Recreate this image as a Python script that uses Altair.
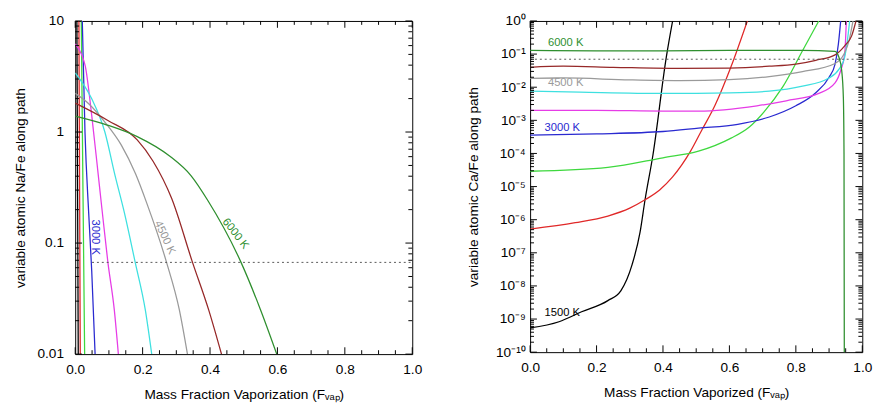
import altair as alt
import pandas as pd

# ---------------- data ----------------
TEMPS = ["1500 K", "2000 K", "2500 K", "3000 K", "3500 K", "4000 K", "4500 K", "5000 K", "6000 K"]
COLORS = ["#000000", "#e02828", "#3ed83e", "#2a2ad0", "#e63ce6", "#3ee0e0", "#9a9a9a", "#962828", "#2f8f2f"]

# Left panel: atomic Na/Fe vs mass fraction vaporized
na_f = {
    "1500 K": [0.005, 0.007, 0.009],
    "2000 K": [0.011, 0.013, 0.015],
    "2500 K": [0.018, 0.023, 0.028],
    "3000 K": [0.021, 0.029, 0.040, 0.049, 0.059],
    "3500 K": [0.0, 0.02, 0.03, 0.049, 0.068, 0.079, 0.097, 0.116, 0.128],
    "4000 K": [0.0, 0.049, 0.088, 0.117, 0.146, 0.178, 0.208, 0.227],
    "4500 K": [0.0, 0.04, 0.088, 0.136, 0.179, 0.212, 0.271, 0.309, 0.333],
    "5000 K": [0.0, 0.097, 0.184, 0.231, 0.286, 0.348, 0.396, 0.434],
    "6000 K": [0.0, 0.097, 0.184, 0.28, 0.344, 0.393, 0.492, 0.55, 0.598],
}
na_v = {
    "1500 K": [10, 0.3, 0.01],
    "2000 K": [10, 0.3, 0.01],
    "2500 K": [10, 0.3, 0.01],
    "3000 K": [10, 1.0, 0.186, 0.056, 0.01],
    "3500 K": [6.2, 4.9, 3.9, 1.41, 0.42, 0.207, 0.067, 0.025, 0.01],
    "4000 K": [3.4, 1.99, 1.0, 0.42, 0.187, 0.067, 0.025, 0.01],
    "4500 K": [2.23, 1.8, 1.23, 0.77, 0.42, 0.23, 0.067, 0.025, 0.01],
    "5000 K": [1.82, 1.27, 0.85, 0.546, 0.253, 0.067, 0.025, 0.01],
    "6000 K": [1.39, 1.15, 0.91, 0.608, 0.403, 0.243, 0.067, 0.025, 0.01],
}

# Right panel: atomic Ca/Fe vs mass fraction vaporized
ca_f = {
    "1500 K": [0.0, 0.087, 0.155, 0.234, 0.273, 0.307, 0.331, 0.346, 0.37, 0.41, 0.429],
    "2000 K": [0.0, 0.136, 0.234, 0.30, 0.346, 0.39, 0.429, 0.483, 0.517, 0.556, 0.605, 0.654],
    "2500 K": [0.0, 0.234, 0.4, 0.507, 0.605, 0.66, 0.703, 0.76, 0.82, 0.869],
    "3000 K": [0.0, 0.2, 0.4, 0.507, 0.625, 0.72, 0.8, 0.86, 0.9, 0.918, 0.928, 0.935],
    "3500 K": [0.0, 0.2, 0.4, 0.507, 0.683, 0.771, 0.869, 0.918, 0.935, 0.947, 0.952],
    "4000 K": [0.0, 0.15, 0.4, 0.6, 0.72, 0.82, 0.898, 0.93, 0.947, 0.955, 0.962],
    "4500 K": [0.0, 0.1, 0.3, 0.45, 0.6, 0.72, 0.82, 0.918, 0.945, 0.96, 0.972],
    "5000 K": [0.0, 0.1, 0.25, 0.45, 0.6, 0.72, 0.8, 0.86, 0.918, 0.947, 0.968, 0.981],
    "6000 K": [0.0, 0.2, 0.4, 0.6, 0.82, 0.918, 0.93, 0.938, 0.943, 0.945, 0.946],
}
ca_v = {
    "1500 K": [5.4e-10, 8.3e-10, 1.66e-9, 3.6e-9, 7.1e-9, 4.4e-8, 4.2e-7, 4.0e-6, 9.3e-5, 8.1e-2, 1.0],
    "2000 K": [5.2e-7, 8.1e-7, 1.29e-6, 2.24e-6, 4.0e-6, 7.9e-6, 1.95e-5, 1.17e-4, 5.1e-4, 2.75e-3, 4.2e-2, 1.0],
    "2500 K": [2.9e-5, 3.8e-5, 7.4e-5, 1.17e-4, 2.9e-4, 6.3e-4, 1.74e-3, 1.0e-2, 0.126, 1.0],
    "3000 K": [3.6e-4, 3.9e-4, 4.6e-4, 5.8e-4, 7.6e-4, 1.26e-3, 2.75e-3, 6.8e-3, 2.0e-2, 5.0e-2, 0.2, 1.0],
    "3500 K": [2.0e-3, 2.0e-3, 1.9e-3, 1.9e-3, 2.75e-3, 3.9e-3, 6.5e-3, 1.35e-2, 3.2e-2, 0.1, 1.0],
    "4000 K": [7.6e-3, 7.1e-3, 6.5e-3, 6.8e-3, 7.6e-3, 1.07e-2, 1.86e-2, 3.5e-2, 8.1e-2, 0.25, 1.0],
    "4500 K": [1.86e-2, 1.9e-2, 1.66e-2, 1.58e-2, 1.7e-2, 2.1e-2, 2.95e-2, 5.2e-2, 0.1, 0.25, 1.0],
    "5000 K": [4.0e-2, 4.3e-2, 4.0e-2, 3.7e-2, 3.8e-2, 4.3e-2, 5.0e-2, 6.5e-2, 9.5e-2, 0.178, 0.355, 1.0],
    "6000 K": [0.129, 0.126, 0.126, 0.129, 0.129, 0.12, 0.079, 0.032, 5.0e-3, 1e-4, 1e-11],
}

# reference (dotted) levels
na_ref = {"x0": [0.05], "x1": [1.0], "y": [0.067]}
ca_ref = {"x0": [0.0], "x1": [1.0], "y": [0.07]}

# curve labels
na_lab_text = ["3000 K", "4500 K", "6000 K"]
na_lab_f = [0.058, 0.265, 0.475]
na_lab_v = [0.113, 0.112, 0.121]
na_lab_angle = [90, 65, 52]
na_lab_color = ["#2a2ad0", "#9a9a9a", "#2f8f2f"]

ca_lab_text = ["6000 K", "4500 K", "3000 K", "1500 K"]
ca_lab_f = [0.107, 0.107, 0.097, 0.097]
ca_lab_v = [0.211, 0.0135, 5.75e-4, 1.48e-9]
ca_lab_color = ["#2f8f2f", "#9a9a9a", "#2a2ad0", "#000000"]

# axis tick values
x_major = [0.0, 0.2, 0.4, 0.6, 0.8, 1.0]
x_minor = [0.05, 0.1, 0.15, 0.25, 0.3, 0.35, 0.45, 0.5, 0.55, 0.65, 0.7, 0.75, 0.85, 0.9, 0.95]
na_y_major = [0.01, 0.1, 1, 10]
ca_y_major = [1e-10, 1e-9, 1e-8, 1e-7, 1e-6, 1e-5, 1e-4, 1e-3, 1e-2, 1e-1, 1]
mantissas = [2, 3, 4, 5, 6, 7, 8, 9]
na_decades = [0.01, 0.1, 1]
ca_decades = [1e-10, 1e-9, 1e-8, 1e-7, 1e-6, 1e-5, 1e-4, 1e-3, 1e-2, 1e-1]
na_y_minor = [m * d for d in na_decades for m in mantissas]
ca_y_minor = [m * d for d in ca_decades for m in mantissas]

FONT = "Liberation Sans"
SUPER = "['10⁰','10⁻¹','10⁻²','10⁻³','10⁻⁴','10⁻⁵','10⁻⁶','10⁻⁷','10⁻⁸','10⁻⁹','10⁻¹⁰'][round(-log(datum.value)/LN10)]"


def long_frame(fd, vd):
    rows = []
    for t in TEMPS:
        for i, (f, v) in enumerate(zip(fd[t], vd[t])):
            rows.append({"T": t, "F": f, "v": v, "i": i})
    return pd.DataFrame(rows)


def panel(fd, vd, ref, lab, ydom, ymaj, ymin, xtitle, ytitle, yaxis_kw, W, H):
    xs = alt.Scale(domain=[0, 1], nice=False, zero=False, padding=0)
    ys = alt.Scale(type="log", domain=ydom, nice=False, padding=0)
    xa = alt.Axis(values=x_major, format=".1f", title=xtitle, labelPadding=9, titlePadding=12,
                  labelFlush=False)
    ya = alt.Axis(values=ymaj, title=ytitle, labelFlush=False, **yaxis_kw)

    def X(f):
        return alt.X(f, scale=xs, axis=xa)

    def Y(f):
        return alt.Y(f, scale=ys, axis=ya)

    df = long_frame(fd, vd)
    lines = alt.Chart(df).mark_line(strokeWidth=1.3, clip=True, interpolate="monotone").encode(
        x=X("F:Q"), y=Y("v:Q"),
        color=alt.Color("T:N", scale=alt.Scale(domain=TEMPS, range=COLORS), legend=None),
        order="i:Q",
    )
    refl = alt.Chart(pd.DataFrame(ref)).mark_rule(color="#555555", strokeDash=[2, 3], strokeWidth=1).encode(
        x=X("x0:Q"), x2="x1:Q", y=Y("y:Q"))
    texts = alt.Chart(pd.DataFrame(lab)).mark_text(font=FONT, fontSize=11.5).encode(
        x=X("F:Q"), y=Y("v:Q"),
        text="text:N", color=alt.Color("c:N", scale=None), angle=alt.Angle("a:Q", scale=None))
    layers = [lines, refl, texts]
    for vals, L in [(x_major, 7), (x_minor, 4)]:
        b = alt.Chart(pd.DataFrame({"t": vals})).mark_rule(color="black", strokeWidth=1)
        layers.append(b.encode(x=X("t:Q"), y=alt.value(H), y2=alt.value(H - L)))
        layers.append(b.encode(x=X("t:Q"), y=alt.value(0), y2=alt.value(L)))
    for vals, L in [(ymaj, 7), (ymin, 4)]:
        b = alt.Chart(pd.DataFrame({"t": vals})).mark_rule(color="black", strokeWidth=1)
        layers.append(b.encode(y=Y("t:Q"), x=alt.value(0), x2=alt.value(L)))
        layers.append(b.encode(y=Y("t:Q"), x=alt.value(W), x2=alt.value(W - L)))
    return alt.layer(*layers).properties(width=W, height=H)


left = panel(na_f, na_v, na_ref,
             {"text": na_lab_text, "F": na_lab_f, "v": na_lab_v, "a": na_lab_angle, "c": na_lab_color},
             [0.01, 10], na_y_major, na_y_minor,
             "Mass Fraction Vaporization (Fᵥₐₚ)", "variable atomic Na/Fe along path",
             dict(format="~g", labelPadding=12, titlePadding=10), 346, 342)

right = panel(ca_f, ca_v, ca_ref,
              {"text": ca_lab_text, "F": ca_lab_f, "v": ca_lab_v, "a": [0] * 4, "c": ca_lab_color},
              [1e-10, 1], ca_y_major, ca_y_minor,
              "Mass Fraction Vaporized (Fᵥₐₚ)", "variable atomic Ca/Fe along path",
              dict(labelExpr=SUPER, labelPadding=5, titlePadding=16), 341, 340)

chart = alt.hconcat(left, right, spacing=44).properties(
    padding={"left": 5, "top": 0, "right": 0, "bottom": 0}
).configure_view(stroke="black", strokeWidth=1).configure_axis(
    labelFont=FONT, titleFont=FONT, labelFontSize=14, titleFontSize=14, titleFontWeight="normal",
    labelColor="black", titleColor="black", grid=False, ticks=False, domain=False
).configure_text(font=FONT)

chart.save("out.html", embed_options={"renderer": "svg", "actions": False})
